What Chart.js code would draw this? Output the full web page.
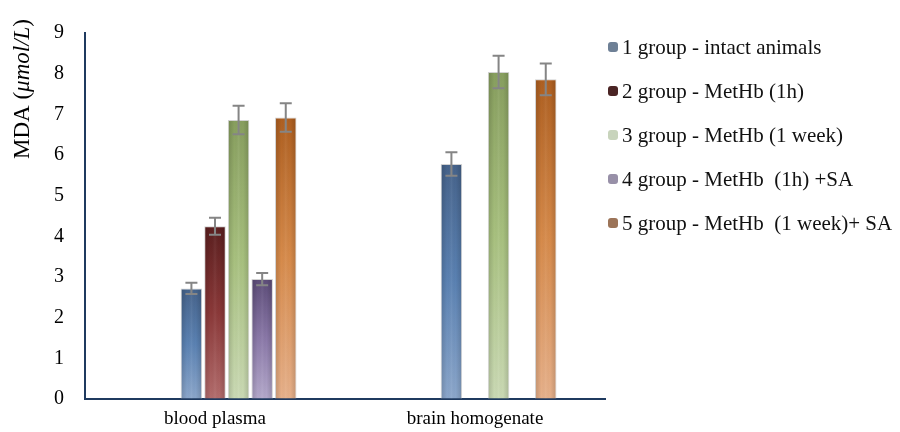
<!DOCTYPE html>
<html><head><meta charset="utf-8">
<script src="https://cdn.jsdelivr.net/npm/chart.js@4"></script>
<style>html,body{margin:0;padding:0;background:#fff}#wrap{width:900px;height:432px;position:relative}</style>
</head><body><div id="wrap"><canvas id="c" width="900" height="432"></canvas></div>
<script>
// ---- data ----
const categories = ['blood plasma', 'brain homogenate'];
const seriesNames = ['1 group - intact animals', '2 group - MetHb (1h)', '3 group - MetHb (1 week)', '4 group - MetHb  (1h) +SA', '5 group - MetHb  (1 week)+ SA'];
const group1 = [2.72, 5.78];
const group2 = [4.25, null];
const group3 = [6.86, 8.04];
const group4 = [2.95, null];
const group5 = [6.92, 7.86];
const err1 = [0.14, 0.29];
const err2 = [0.21, null];
const err3 = [0.35, 0.40];
const err4 = [0.15, null];
const err5 = [0.35, 0.39];
const yTicks = [0, 1, 2, 3, 4, 5, 6, 7, 8, 9];
const yTitleMain = 'MDA (';
const yTitleItalic = '\u03bcmol/L';
const yTitleEnd = ')';

// ---- styles ----
const barStyles = [
  {top: '#45628a', mid: '#5a81b2', bottom: '#8ba6ca', legend: '#6e8096'},
  {top: '#5a1e1e', mid: '#8a3838', bottom: '#b26c6c', legend: '#4a2424'},
  {top: '#879e5e', mid: '#a7c07e', bottom: '#cad9b4', legend: '#c8d4bc'},
  {top: '#5c4c78', mid: '#8a78a8', bottom: '#b3a8ca', legend: '#9890a8'},
  {top: '#ae5f20', mid: '#d68a4a', bottom: '#e6b08a', legend: '#9c7458'}
];
const SERIF = '"Liberation Serif", "Times New Roman", serif';
const values = [group1, group2, group3, group4, group5];
const errors = [err1, err2, err3, err4, err5];

function gradFill(si) {
  return function (ctx) {
    const chart = ctx.chart;
    const st = barStyles[si];
    const ys = chart.scales && chart.scales.y;
    if (!chart.chartArea || !ys || ctx.raw == null) return st.mid;
    const top = ys.getPixelForValue(ctx.raw);
    const bot = ys.getPixelForValue(0);
    if (!isFinite(top) || !isFinite(bot) || bot - top < 1) return st.mid;
    const g = chart.ctx.createLinearGradient(0, top, 0, bot);
    g.addColorStop(0, st.top);
    g.addColorStop(0.5, st.mid);
    g.addColorStop(1, st.bottom);
    return g;
  };
}

const datasets = [];
// two empty placeholder slots so each group sits where the original places it
datasets.push({label: '', data: [null, null], isPad: true});
datasets.push({label: '', data: [null, null], isPad: true});
values.forEach((v, i) => {
  datasets.push({
    label: seriesNames[i],
    data: v,
    errors: errors[i],
    styleIndex: i,
    backgroundColor: gradFill(i),
    borderColor: 'rgba(205,205,205,0.9)',
    borderWidth: 1,
    borderSkipped: 'bottom'
  });
});

const shadePlugin = {
  id: 'shade',
  afterDatasetsDraw(chart) {
    const ctx = chart.ctx;
    chart.data.datasets.forEach((ds, di) => {
      if (ds.isPad) return;
      const meta = chart.getDatasetMeta(di);
      meta.data.forEach((el, i) => {
        if (ds.data[i] == null) return;
        const w = el.width, l = el.x - w / 2, t = el.y, b = el.base;
        const g = ctx.createLinearGradient(l, 0, l + w, 0);
        g.addColorStop(0, 'rgba(0,0,0,0.16)');
        g.addColorStop(0.3, 'rgba(0,0,0,0)');
        g.addColorStop(0.5, 'rgba(255,255,255,0.06)');
        g.addColorStop(0.7, 'rgba(0,0,0,0)');
        g.addColorStop(1, 'rgba(0,0,0,0.16)');
        ctx.save();
        ctx.fillStyle = g;
        ctx.fillRect(l + 1, t + 1, w - 2, b - t - 1);
        ctx.restore();
      });
    });
    // error bars
    const ys = chart.scales.y;
    chart.data.datasets.forEach((ds, di) => {
      if (ds.isPad) return;
      const meta = chart.getDatasetMeta(di);
      meta.data.forEach((el, i) => {
        const v = ds.data[i], e = ds.errors[i];
        if (v == null || e == null) return;
        const yT = ys.getPixelForValue(v + e), yB = ys.getPixelForValue(v - e);
        ctx.save();
        ctx.strokeStyle = '#858585';
        ctx.lineWidth = 2;
        ctx.beginPath();
        ctx.moveTo(el.x, yT); ctx.lineTo(el.x, yB);
        ctx.moveTo(el.x - 6, yT); ctx.lineTo(el.x + 6, yT);
        ctx.moveTo(el.x - 6, yB); ctx.lineTo(el.x + 6, yB);
        ctx.stroke();
        ctx.restore();
      });
    });
  }
};

const decorPlugin = {
  id: 'decor',
  afterDraw(chart) {
    const ctx = chart.ctx;
    // y title with italic unit
    ctx.save();
    ctx.translate(23, 89);
    ctx.rotate(-Math.PI / 2);
    ctx.fillStyle = '#000';
    ctx.textBaseline = 'middle';
    const fN = '23px ' + SERIF, fI = 'italic 23px ' + SERIF;
    ctx.font = fN; const w1 = ctx.measureText(yTitleMain).width; const w3 = ctx.measureText(yTitleEnd).width;
    ctx.font = fI; const w2 = ctx.measureText(yTitleItalic).width;
    let x = -(w1 + w2 + w3) / 2;
    ctx.font = fN; ctx.fillText(yTitleMain, x, 0); x += w1;
    ctx.font = fI; ctx.fillText(yTitleItalic, x, 0); x += w2;
    ctx.font = fN; ctx.fillText(yTitleEnd, x, 0);
    ctx.restore();
    // legend
    ctx.save();
    ctx.font = '21px ' + SERIF;
    ctx.textBaseline = 'middle';
    seriesNames.forEach((name, i) => {
      const y = 47 + 44 * i;
      ctx.fillStyle = barStyles[i].legend;
      ctx.beginPath();
      if (ctx.roundRect) ctx.roundRect(608, y - 5, 10, 10, 3); else ctx.rect(608, y - 5, 10, 10);
      ctx.fill();
      ctx.fillStyle = '#111';
      ctx.fillText(name, 622, y + 1);
    });
    ctx.restore();
  }
};

new Chart(document.getElementById('c'), {
  type: 'bar',
  data: {labels: categories, datasets: datasets},
  plugins: [shadePlugin, decorPlugin],
  options: {
    responsive: false,
    animation: false,
    devicePixelRatio: 1,
    layout: {padding: {top: 20, right: 295, left: 0, bottom: 0}},
    datasets: {bar: {categoryPercentage: 0.635, barPercentage: 0.91}},
    plugins: {legend: {display: false}, tooltip: {enabled: false}},
    scales: {
      x: {
        grid: {display: true, color: 'rgba(0,0,0,0)', drawTicks: false},
        border: {display: true, color: '#1f3a5f', width: 2},
        ticks: {color: '#000', font: {family: SERIF, size: 19}, padding: 9, maxRotation: 0},
        afterFit(s) { s.height = 30; }
      },
      y: {
        min: 0, max: 9,
        afterBuildTicks(s) { s.ticks = yTicks.map(v => ({value: v})); },
        grid: {display: true, color: 'rgba(0,0,0,0)', drawTicks: false},
        border: {display: true, color: '#1f3a5f', width: 2},
        ticks: {color: '#000', font: {family: SERIF, size: 20}, padding: 21},
        afterFit(s) { s.width = 85; }
      }
    }
  }
});
</script></body></html>
